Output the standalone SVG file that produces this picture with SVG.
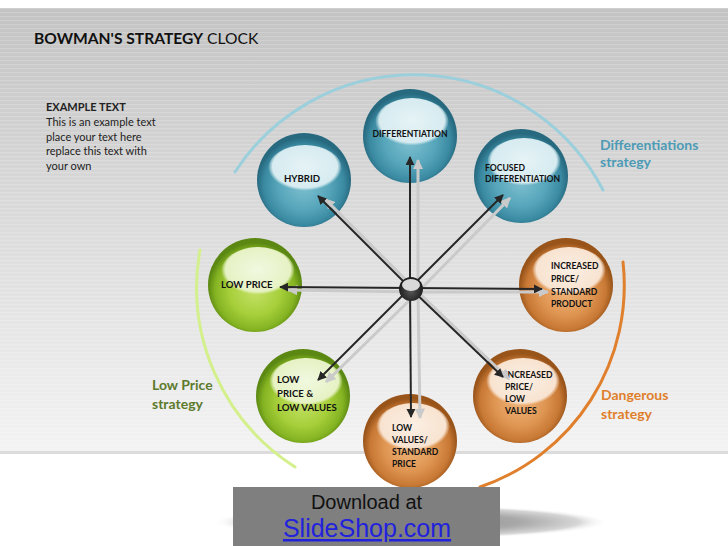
<svg xmlns="http://www.w3.org/2000/svg" width="728" height="546" viewBox="0 0 728 546">
<defs>
<linearGradient id="bg" x1="0" y1="0" x2="0" y2="1">
<stop offset="0" stop-color="#c3c3c3"/>
<stop offset="0.5" stop-color="#dcdcdc"/>
<stop offset="1" stop-color="#f3f3f3"/>
</linearGradient>
<pattern id="stripes" width="8" height="4" patternUnits="userSpaceOnUse">
<rect width="8" height="1.2" fill="#ffffff" fill-opacity="0.18"/>
</pattern>
<radialGradient id="tealBody" cx="0.5" cy="0.55" r="0.5">
<stop offset="0" stop-color="#80c1d1"/>
<stop offset="0.55" stop-color="#56a5ba"/>
<stop offset="0.85" stop-color="#3a8aa2"/>
<stop offset="1" stop-color="#276a80"/>
</radialGradient>
<radialGradient id="greenBody" cx="0.5" cy="0.55" r="0.5">
<stop offset="0" stop-color="#c6e26a"/>
<stop offset="0.55" stop-color="#a6cf3a"/>
<stop offset="0.85" stop-color="#84b322"/>
<stop offset="1" stop-color="#5b8812"/>
</radialGradient>
<radialGradient id="orangeBody" cx="0.5" cy="0.55" r="0.5">
<stop offset="0" stop-color="#f0b67c"/>
<stop offset="0.55" stop-color="#df9552"/>
<stop offset="0.85" stop-color="#c77834"/>
<stop offset="1" stop-color="#99541a"/>
</radialGradient>
<radialGradient id="tealHi" cx="0.5" cy="0.45" r="0.5">
<stop offset="0" stop-color="#e6f3f6"/>
<stop offset="0.88" stop-color="#d6ebf0"/>
<stop offset="1" stop-color="#d6ebf0" stop-opacity="0"/>
</radialGradient>
<radialGradient id="greenHi" cx="0.5" cy="0.45" r="0.5">
<stop offset="0" stop-color="#f1f8e0"/>
<stop offset="0.88" stop-color="#e6f2c4"/>
<stop offset="1" stop-color="#e6f2c4" stop-opacity="0"/>
</radialGradient>
<radialGradient id="orangeHi" cx="0.5" cy="0.45" r="0.5">
<stop offset="0" stop-color="#fbefe4"/>
<stop offset="0.88" stop-color="#f8e3d0"/>
<stop offset="1" stop-color="#f8e3d0" stop-opacity="0"/>
</radialGradient>
<radialGradient id="hubG" cx="0.5" cy="0.6" r="0.5">
<stop offset="0" stop-color="#555"/>
<stop offset="1" stop-color="#1e1e1e"/>
</radialGradient>
<radialGradient id="shadowG" cx="0.5" cy="0.5" r="0.5">
<stop offset="0" stop-color="#8e8e8e"/>
<stop offset="0.55" stop-color="#a8a8a8"/>
<stop offset="0.85" stop-color="#d6d6d6"/>
<stop offset="1" stop-color="#ffffff" stop-opacity="0"/>
</radialGradient>
<marker id="ah" viewBox="0 0 10 10" refX="9" refY="5" markerWidth="4.5" markerHeight="4.5" orient="auto" markerUnits="strokeWidth">
<path d="M0,0 L10,5 L0,10 Z" fill="#262626"/>
</marker>
<marker id="ahs" viewBox="0 0 10 10" refX="9" refY="5" markerWidth="3.5" markerHeight="3.5" orient="auto" markerUnits="strokeWidth">
<path d="M0,0 L10,5 L0,10 Z" fill="#cacaca"/>
</marker>
</defs>
<style>
.lbl{font-family:Lato,"Open Sans","Liberation Sans",sans-serif;font-weight:bold;fill:#111;}
.sm{font-size:8.6px;}
.md{font-size:9.6px;}
.arr{stroke:#262626;stroke-width:2;fill:none;marker-end:url(#ah);}
.sh{stroke:#cacaca;stroke-width:3;fill:none;marker-end:url(#ahs);}
.arc{fill:none;stroke-width:3;stroke-linecap:round;}
.strat{font-family:Lato,"Open Sans","Liberation Sans",sans-serif;font-weight:bold;font-size:14px;}
</style>
<rect width="728" height="546" fill="#ffffff"/>
<rect x="0" y="8" width="728" height="446" fill="url(#bg)"/>
<rect x="0" y="8" width="728" height="446" fill="url(#stripes)"/>
<rect x="0" y="451" width="728" height="3" fill="#dcdcdc"/>

<g id="arcs">
<path class="arc" stroke="#9ccfdc" d="M235,172 A213,213 0 0 1 603,190"/>
<path class="arc" stroke="#d3f08c" d="M200,250 A213,213 0 0 0 295,467"/>
<path class="arc" stroke="#e07f2c" d="M623,262 A213,213 0 0 1 480,487"/>
</g>

<g id="title">
<text x="34" y="44" font-family="Lato,'Open Sans','Liberation Sans',sans-serif" font-size="15.6px" fill="#111"><tspan font-weight="bold">BOWMAN'S STRATEGY</tspan> CLOCK</text>
</g>
<g id="example-text" font-family="Lato,'Open Sans','Liberation Sans',sans-serif" font-size="11px" fill="#222">
<text x="46" y="111" font-weight="bold">EXAMPLE TEXT</text>
<text x="46" y="126">This is an example text</text>
<text x="46" y="140.5">place your text here</text>
<text x="46" y="155">replace this text with</text>
<text x="46" y="169.5">your own</text>
</g>
<g id="strategy-labels">
<text class="strat" fill="#4d9bb6" x="600" y="150">Differentiations</text>
<text class="strat" fill="#4d9bb6" x="600" y="167">strategy</text>
<text class="strat" fill="#5c7a2c" x="152" y="390">Low Price</text>
<text class="strat" fill="#5c7a2c" x="152" y="409">strategy</text>
<text class="strat" fill="#e07f2c" x="601" y="400">Dangerous</text>
<text class="strat" fill="#e07f2c" x="601" y="419">strategy</text>
</g>

<ellipse id="base-shadow" cx="411" cy="522" rx="198" ry="17" fill="url(#shadowG)"/>

<g id="node-differentiation">
<circle cx="410" cy="136" r="47" fill="url(#tealBody)"/>
<ellipse cx="412" cy="123" rx="37" ry="25" fill="url(#tealHi)"/>
<text class="lbl sm" x="410" y="137" text-anchor="middle">DIFFERENTIATION</text>
</g>
<g id="node-hybrid">
<circle cx="304" cy="180" r="47" fill="url(#tealBody)"/>
<ellipse cx="305" cy="169" rx="37" ry="24" fill="url(#tealHi)"/>
<text class="lbl md" x="302" y="182" text-anchor="middle">HYBRID</text>
</g>
<g id="node-focused-differentiation">
<circle cx="521" cy="176" r="47" fill="url(#tealBody)"/>
<ellipse cx="524" cy="163" rx="37" ry="25" fill="url(#tealHi)"/>
<text class="lbl sm" x="485" y="171">FOCUSED</text>
<text class="lbl sm" x="485" y="182">DIFFERENTIATION</text>
</g>
<g id="node-increased-price-standard-product">
<circle cx="566" cy="285" r="47" fill="url(#orangeBody)"/>
<ellipse cx="569" cy="272" rx="37" ry="25" fill="url(#orangeHi)"/>
<text class="lbl sm" x="551" y="269">INCREASED</text>
<text class="lbl sm" x="551" y="282">PRICE/</text>
<text class="lbl sm" x="551" y="294.5">STANDARD</text>
<text class="lbl sm" x="551" y="307">PRODUCT</text>
</g>
<g id="node-increased-price-low-values">
<circle cx="520" cy="396" r="47" fill="url(#orangeBody)"/>
<ellipse cx="523" cy="383" rx="37" ry="25" fill="url(#orangeHi)"/>
<text class="lbl sm" x="505" y="378">INCREASED</text>
<text class="lbl sm" x="505" y="390">PRICE/</text>
<text class="lbl sm" x="505" y="402">LOW</text>
<text class="lbl sm" x="505" y="414">VALUES</text>
</g>
<g id="node-low-values-standard-price">
<circle cx="410" cy="441" r="47" fill="url(#orangeBody)"/>
<ellipse cx="413" cy="428" rx="37" ry="25" fill="url(#orangeHi)"/>
<text class="lbl sm" x="392" y="431">LOW</text>
<text class="lbl sm" x="392" y="443">VALUES/</text>
<text class="lbl sm" x="392" y="455">STANDARD</text>
<text class="lbl sm" x="392" y="467">PRICE</text>
</g>
<g id="node-low-price-low-values">
<circle cx="303" cy="396" r="47" fill="url(#greenBody)"/>
<ellipse cx="306" cy="383" rx="37" ry="25" fill="url(#greenHi)"/>
<text class="lbl md" x="277" y="383">LOW</text>
<text class="lbl md" x="277" y="397">PRICE &amp;</text>
<text class="lbl md" x="277" y="411">LOW VALUES</text>
</g>
<g id="node-low-price">
<circle cx="255" cy="285" r="47" fill="url(#greenBody)"/>
<ellipse cx="258" cy="272" rx="37" ry="25" fill="url(#greenHi)"/>
<text class="lbl md" x="221" y="287.5">LOW PRICE</text>
</g>

<g id="connectors">
<g id="connector-shadows">
<line class="sh" x1="418" y1="292" x2="418" y2="160"/>
<line class="sh" x1="418" y1="292" x2="325" y2="199"/>
<line class="sh" x1="418" y1="292" x2="510" y2="198"/>
<line class="sh" x1="418" y1="292" x2="548" y2="292"/>
<line class="sh" x1="418" y1="292" x2="288" y2="290"/>
<line class="sh" x1="418" y1="292" x2="326" y2="382"/>
<line class="sh" x1="418" y1="292" x2="420" y2="418"/>
<line class="sh" x1="418" y1="292" x2="509" y2="379"/>
</g>
<line class="arr" x1="410" y1="288" x2="410" y2="157"/>
<line class="arr" x1="410" y1="288" x2="318" y2="196"/>
<line class="arr" x1="410" y1="288" x2="503" y2="195"/>
<line class="arr" x1="410" y1="288" x2="542" y2="289"/>
<line class="arr" x1="410" y1="288" x2="280" y2="287"/>
<line class="arr" x1="410" y1="288" x2="318" y2="380"/>
<line class="arr" x1="410" y1="288" x2="411" y2="417"/>
<line class="arr" x1="410" y1="288" x2="503" y2="377"/>
</g>

<g id="hub">
<circle cx="411" cy="289" r="12" fill="url(#hubG)"/>
<ellipse cx="411" cy="285" rx="9" ry="6" fill="#d9d9d9"/>
</g>

<g id="download-banner">
<rect x="233" y="487" width="267" height="59" fill="#7f7f7f"/>
<text x="366.5" y="509" text-anchor="middle" font-family="'Liberation Sans',Arial,sans-serif" font-size="20px" fill="#111">Download at</text>
<text x="367" y="537" text-anchor="middle" font-family="'Liberation Sans',Arial,sans-serif" font-size="25px" fill="#2222dd" text-decoration="underline">SlideShop.com</text>
</g>
</svg>
